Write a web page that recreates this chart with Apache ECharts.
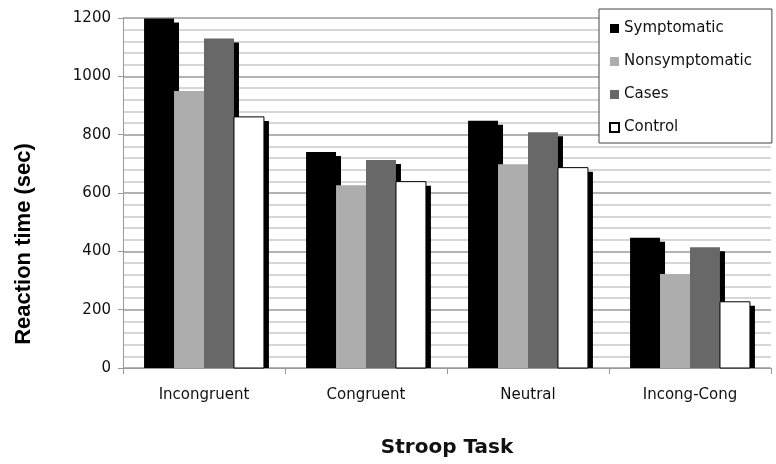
<!DOCTYPE html>
<html>
<head>
<meta charset="utf-8">
<script src="https://cdn.jsdelivr.net/npm/echarts@6/dist/echarts.min.js"></script>
<style>
  html, body { margin: 0; padding: 0; background: #fff; }
  #chart { width: 776px; height: 464px; }
</style>
</head>
<body>
<div id="chart"></div>
<script>
// Stroop task reaction times per condition and group
const tasks = ['Incongruent', 'Congruent', 'Neutral', 'Incong-Cong'];
const symptomatic    = [1198, 741, 848, 447];
const nonsymptomatic = [950, 627, 699, 322];
const cases          = [1130, 713, 808, 414];
const control        = [861, 639, 687, 227];
const yTicks = { min: 0, max: 1200, step: 200 };

const groups = [
  { name: 'Symptomatic',    data: symptomatic,    color: '#000000' },
  { name: 'Nonsymptomatic', data: nonsymptomatic, color: '#adadad' },
  { name: 'Cases',          data: cases,          color: '#686868' },
  { name: 'Control',        data: control,        color: '#ffffff', border: true }
];

// Bars with a solid drop shadow to the lower right, cut off at the baseline.
function makeRenderer(slot, group) {
  return function (params, api) {
    const idx = api.value(0);
    const val = api.value(1);
    const base = api.coord([idx, 0]);
    const top = api.coord([idx, val]);
    const band = api.size([1, 0])[0];
    const w = band * 0.185;
    const x = base[0] - 2 * w + slot * w;
    const h = base[1] - top[1];
    const dx = 5, dy = 4;
    return {
      type: 'group',
      children: [
        {
          type: 'rect',
          shape: { x: x + dx, y: top[1] + dy, width: w, height: Math.max(0, h - dy) },
          style: { fill: '#000000' }
        },
        {
          type: 'rect',
          shape: { x: x, y: top[1], width: w, height: h },
          style: group.border
            ? { fill: group.color, stroke: '#000000', lineWidth: 1 }
            : { fill: group.color }
        }
      ]
    };
  };
}

const chart = echarts.init(document.getElementById('chart'), null, { renderer: 'canvas' });

chart.setOption({
  animation: false,
  backgroundColor: '#ffffff',
  grid: { left: 123, right: 5, top: 18, bottom: 96, containLabel: false },
  legend: {
    orient: 'vertical',
    left: 599,
    top: 9,
    backgroundColor: '#ffffff',
    borderColor: '#444444',
    borderWidth: 1,
    borderRadius: 0,
    padding: [12, 20, 8, 10],
    itemWidth: 9,
    itemHeight: 9,
    itemGap: 18,
    icon: 'rect',
    textStyle: { fontFamily: 'DejaVu Sans', fontSize: 15, lineHeight: 15, color: '#111' },
    data: groups.map(g => g.name)
  },
  xAxis: {
    type: 'category',
    data: tasks,
    name: 'Stroop Task',
    nameLocation: 'middle',
    nameGap: 70,
    nameTextStyle: { fontFamily: 'DejaVu Sans', fontWeight: 'bold', fontSize: 20, color: '#111', verticalAlign: 'top' },
    axisLine: { lineStyle: { color: '#999999', width: 1 } },
    axisTick: { show: true, alignWithLabel: false, length: 6, lineStyle: { color: '#999999' } },
    axisLabel: { margin: 20, fontFamily: 'DejaVu Sans', fontSize: 15, color: '#111' },
    splitLine: { show: false }
  },
  yAxis: {
    type: 'value',
    min: yTicks.min,
    max: yTicks.max,
    interval: yTicks.step,
    name: 'Reaction time (sec)',
    nameLocation: 'middle',
    nameGap: 88,
    nameTextStyle: {
      fontFamily: 'Liberation Sans', fontWeight: 'bold', fontSize: 22, color: '#000',
      padding: [0, 102, 0, 0]
    },
    axisLine: { show: true, lineStyle: { color: '#999999', width: 1 } },
    axisTick: { show: true, length: 5, lineStyle: { color: '#999999' } },
    axisLabel: { margin: 12, fontFamily: 'DejaVu Sans', fontSize: 15, color: '#111', formatter: v => String(v) },
    splitLine: { show: true, lineStyle: { color: '#9a9a9a', width: 1.5 } },
    minorTick: { show: false, splitNumber: 5 },
    minorSplitLine: { show: true, lineStyle: { color: '#d6d6d6', width: 2 } }
  },
  series: groups.map((g, k) => ({
    name: g.name,
    type: 'custom',
    renderItem: makeRenderer(k, g),
    encode: { x: 0, y: 1 },
    data: g.data.map((v, i) => [i, v]),
    itemStyle: {
      color: g.color,
      borderColor: g.border ? '#000000' : g.color,
      borderWidth: g.border ? 1 : 0
    },
    emphasis: { disabled: true }
  }))
});
</script>
</body>
</html>
